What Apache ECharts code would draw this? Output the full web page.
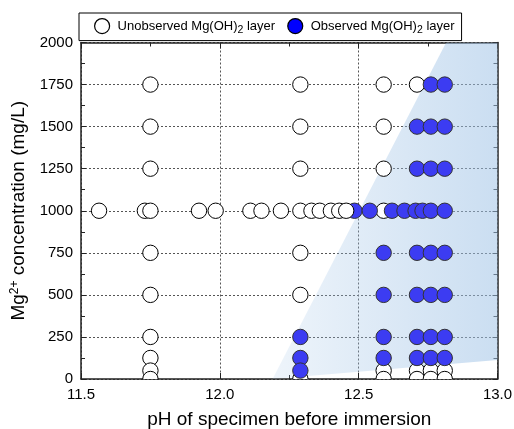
<!DOCTYPE html>
<html><head><meta charset="utf-8">
<script src="https://cdn.jsdelivr.net/npm/echarts@6/dist/echarts.min.js"></script>
<style>html,body{margin:0;padding:0;background:#fff}#c{width:514px;height:429px}</style>
</head><body><div id="c"></div>
<script>
// ---- data ----
const xTickLabels = ['11.5', '12.0', '12.5', '13.0'];
const yTickLabels = ['0','250','500','750','1000','1250','1500','1750','2000'];

// Unobserved Mg(OH)2 layer (open circles)
const unobsPH = [
  11.75, 11.75, 11.75, 11.75, 11.75, 11.75, 11.75, 11.75, 11.75,
  12.29, 12.29, 12.29, 12.29, 12.29, 12.29,
  12.59, 12.59, 12.59, 12.59, 12.59, 12.59,
  12.71, 12.71, 12.71,
  12.76, 12.76,
  12.81, 12.81,
  11.565, 11.73, 11.75, 11.925, 11.985, 12.11, 12.15, 12.22, 12.29, 12.33, 12.36, 12.40, 12.43
];
const unobsMg = [
  1750, 1500, 1250, 750, 500, 250, 125, 50, 0,
  1750, 1500, 1250, 750, 500, 0,
  1750, 1500, 1250, 1000, 50, 0,
  1750, 50, 0,
  50, 0,
  50, 0,
  1000, 1000, 1000, 1000, 1000, 1000, 1000, 1000, 1000, 1000, 1000, 1000, 1000
];
// open circle drawn over a filled one
const unobsTopPH = [12.455];
const unobsTopMg = [1000];

// Observed Mg(OH)2 layer (filled circles)
const obsPH = [
  12.29, 12.29, 12.29,
  12.59, 12.59, 12.59, 12.59,
  12.71, 12.71, 12.71, 12.71, 12.71, 12.71,
  12.76, 12.76, 12.76, 12.76, 12.76, 12.76, 12.76,
  12.81, 12.81, 12.81, 12.81, 12.81, 12.81, 12.81,
  12.485, 12.54, 12.62, 12.665, 12.705, 12.73, 12.76, 12.81
];
const obsMg = [
  250, 125, 50,
  750, 500, 250, 125,
  1500, 1250, 750, 500, 250, 125,
  1750, 1500, 1250, 750, 500, 250, 125,
  1750, 1500, 1250, 750, 500, 250, 125,
  1000, 1000, 1000, 1000, 1000, 1000, 1000, 1000
];

// shaded region (pH, Mg) corners
const shadePH = [12.19, 12.815, 13.0, 13.0];
const shadeMg = [0, 2000, 2000, 113];

// ---- chart ----
const zip = (a, b) => a.map((v, i) => [v, b[i]]);
const NAME_U = 'Unobserved Mg(OH)2 layer';
const NAME_O = 'Observed Mg(OH)2 layer';

function circleRender(fill, stroke) {
  return function (params, api) {
    const p = api.coord([api.value(0), api.value(1)]);
    return { type: 'circle', shape: { cx: p[0], cy: p[1], r: 7.7 },
             style: { fill: fill, stroke: stroke, lineWidth: 1 } };
  };
}

const gridLine = { show: true, lineStyle: { color: '#555', type: [2, 2], width: 1 } };
const axLine = { show: true, onZero: false, lineStyle: { color: '#222', width: 1.5 } };
const font = 'Liberation Sans, Arial, sans-serif';

const chart = echarts.init(document.getElementById('c'), null, { renderer: 'canvas' });
chart.setOption({
  animation: false,
  backgroundColor: '#fff',
  grid: { left: 81, right: 16.5, top: 42.5, bottom: 50, containLabel: false, outerBoundsMode: 'none' },
  legend: {
    left: 79, top: 13,
    data: [
      { name: NAME_U, icon: 'circle', itemStyle: { color: '#fff', borderColor: '#000', borderWidth: 1.2 } },
      { name: NAME_O, icon: 'circle', itemStyle: { color: '#0000ff', borderColor: '#000', borderWidth: 1.2 } }
    ],
    itemWidth: 15, itemHeight: 15, itemGap: 12,
    padding: [5, 7, 5, 15],
    borderColor: '#000', borderWidth: 1, backgroundColor: '#fff',
    formatter: n => '{t|' + n.replace('Mg(OH)2', 'Mg(OH)}{s|2}{t|') + '}',
    textStyle: {
      fontFamily: font, color: '#000', padding: [0, 0, 0, 3],
      rich: {
        t: { fontFamily: font, fontSize: 13, color: '#000' },
        s: { fontFamily: font, fontSize: 10.5, color: '#000', padding: [8, 0, 0, 0] }
      }
    }
  },
  xAxis: [{
    type: 'value', min: 11.5, max: 13.0, interval: 0.5, position: 'bottom',
    axisLine: axLine,
    axisTick: { show: true, inside: true, length: 6, lineStyle: { color: '#222' } },
    minorTick: { show: true, splitNumber: 2, length: 4, lineStyle: { color: '#222' } },
    splitLine: gridLine,
    axisLabel: { color: '#000', fontSize: 15, fontFamily: font, margin: 8,
      formatter: v => xTickLabels[Math.round((v - 11.5) / 0.5)] },
    name: 'pH of specimen before immersion', nameLocation: 'middle', nameGap: 31,
    nameTextStyle: { color: '#000', fontSize: 19, fontFamily: font }
  }, {
    type: 'value', min: 11.5, max: 13.0, interval: 0.5, position: 'top',
    axisLine: axLine,
    axisTick: { show: true, inside: true, length: 6, lineStyle: { color: '#222' } },
    minorTick: { show: true, splitNumber: 2, length: 4, lineStyle: { color: '#222' } },
    splitLine: { show: false }, axisLabel: { show: false }
  }],
  yAxis: [{
    type: 'value', min: 0, max: 2000, interval: 250, position: 'left',
    axisLine: axLine,
    axisTick: { show: true, inside: true, length: 5, lineStyle: { color: '#222' } },
    minorTick: { show: true, splitNumber: 2, length: 4, lineStyle: { color: '#222' } },
    splitLine: gridLine,
    axisLabel: { color: '#000', fontSize: 15, fontFamily: font, margin: 8,
      formatter: v => yTickLabels[Math.round(v / 250)] },
    name: '{t|Mg}{p|2+}{t| concentration (mg/L)}', nameLocation: 'middle', nameGap: 49, nameRotate: 90,
    nameTextStyle: { color: '#000', fontSize: 19, fontFamily: font,
      rich: {
        t: { fontSize: 19, fontFamily: font, color: '#000' },
        p: { fontSize: 12, fontFamily: font, color: '#000', padding: [0, 0, 10, 0] }
      } }
  }, {
    type: 'value', min: 0, max: 2000, interval: 250, position: 'right',
    axisLine: axLine,
    axisTick: { show: true, inside: true, length: 5, lineStyle: { color: '#222' } },
    minorTick: { show: true, splitNumber: 2, length: 4, lineStyle: { color: '#222' } },
    splitLine: { show: false }, axisLabel: { show: false }
  }],
  series: [{
    name: 'shade', type: 'custom', clip: true, z: 1, silent: true,
    data: [[0]],
    renderItem: function (params, api) {
      const pts = shadePH.map((x, i) => api.coord([x, shadeMg[i]]));
      return { type: 'polygon', shape: { points: pts },
        style: { fill: new echarts.graphic.LinearGradient(0, 0, 1, 0, [
          { offset: 0, color: 'rgba(160,195,230,0.18)' },
          { offset: 1, color: 'rgba(160,195,230,0.55)' }
        ]), stroke: null } };
    }
  }, {
    name: NAME_U, type: 'custom', clip: true, z: 3,
    itemStyle: { color: '#fff', borderColor: '#000', borderWidth: 1 },
    renderItem: circleRender('#fff', '#000'),
    encode: { x: 0, y: 1 }, data: zip(unobsPH, unobsMg)
  }, {
    name: NAME_O, type: 'custom', clip: true, z: 4,
    itemStyle: { color: '#0000ff', borderColor: '#000', borderWidth: 1 },
    renderItem: circleRender('#3c3cf2', '#333'),
    encode: { x: 0, y: 1 }, data: zip(obsPH, obsMg)
  }, {
    name: NAME_U, type: 'custom', clip: true, z: 5,
    itemStyle: { color: '#fff', borderColor: '#000', borderWidth: 1 },
    renderItem: circleRender('#fff', '#000'),
    encode: { x: 0, y: 1 }, data: zip(unobsTopPH, unobsTopMg)
  }]
});
</script></body></html>
